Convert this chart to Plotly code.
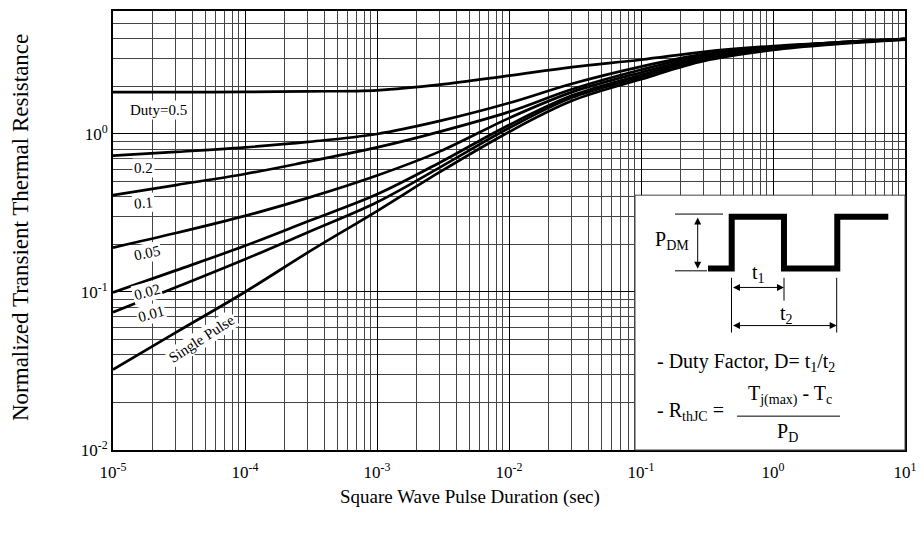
import plotly.graph_objects as go

# ---------------- data ----------------
t = [1e-5, 3e-5, 1e-4, 3e-4, 1e-3, 3e-3, 1e-2, 3e-2, 1e-1, 3e-1, 1, 3, 10]
r_d05 = [1.84, 1.84, 1.845, 1.86, 1.89, 2.05, 2.34, 2.65, 2.95, 3.31, 3.60, 3.79, 4.0]
r_d02 = [0.729, 0.77, 0.823, 0.891, 1.00, 1.21, 1.57, 2.08, 2.67, 3.20, 3.55, 3.79, 3.98]
r_d01 = [0.410, 0.475, 0.558, 0.668, 0.822, 1.035, 1.38, 1.92, 2.55, 3.15, 3.55, 3.79, 3.98]
r_d005 = [0.191, 0.236, 0.303, 0.394, 0.546, 0.776, 1.26, 1.84, 2.45, 3.08, 3.51, 3.76, 3.98]
r_d002 = [0.0994, 0.137, 0.196, 0.280, 0.415, 0.660, 1.14, 1.75, 2.36, 3.05, 3.50, 3.76, 3.98]
r_d001 = [0.0744, 0.107, 0.161, 0.239, 0.37, 0.615, 1.09, 1.70, 2.29, 3.00, 3.47, 3.74, 3.98]
r_single = [0.0323, 0.0555, 0.100, 0.178, 0.325, 0.575, 1.03, 1.62, 2.22, 2.90, 3.40, 3.70, 3.95]

series = [r_d05, r_d02, r_d01, r_d005, r_d002, r_d001, r_single]

x_tickvals = [1e-5, 1e-4, 1e-3, 1e-2, 1e-1, 1, 10]
x_ticktext = ["10<sup>-5</sup>", "10<sup>-4</sup>", "10<sup>-3</sup>", "10<sup>-2</sup>",
              "10<sup>-1</sup>", "10<sup>0</sup>", "10<sup>1</sup>"]
y_tickvals = [0.01, 0.1, 1]
y_ticktext = ["10<sup>-2</sup>", "10<sup>-1</sup>", "10<sup>0</sup>"]

labels = ["Duty=0.5", "0.2", "0.1", "0.05", "0.02", "0.01", "Single Pulse"]

# ---------------- layout geometry ----------------
# page body has an 8px margin; plot area on the page: x 113..905, y 9..450
OFF = 8
PL, PT, PW, PH = 113, 9, 792, 441
FONT = "Liberation Serif, Times New Roman, serif"


def px(x):
    return (x - PL) / PW


def py(y):
    return (PT + PH - y) / PH


fig = go.Figure()
for s in series:
    fig.add_trace(go.Scatter(x=t, y=s, mode="lines", line=dict(color="black", width=2.7, shape="spline"),
                             showlegend=False, hoverinfo="skip"))

minor_x = [m * 10 ** k for k in range(-5, 1) for m in range(2, 10)]
minor_y = [m * 10 ** k for k in range(-2, 1) for m in range(2, 10) if m * 10 ** k <= 6]

fig.update_xaxes(type="log", range=[-5, 1], tickmode="array", tickvals=x_tickvals, ticktext=x_ticktext,
                 showgrid=True, gridcolor="black", gridwidth=1.3,
                 minor=dict(tickmode="array", tickvals=minor_x, showgrid=True, gridcolor="#444", gridwidth=1),
                 showline=True, linecolor="black", linewidth=2, mirror=True, ticks="",
                 ticklabelstandoff=6,
                 tickfont=dict(family=FONT, size=17, color="black"), zeroline=False)
fig.update_yaxes(type="log", range=[-2, 0.7782], tickmode="array", tickvals=y_tickvals, ticktext=y_ticktext,
                 showgrid=True, gridcolor="black", gridwidth=1.3,
                 minor=dict(tickmode="array", tickvals=minor_y, showgrid=True, gridcolor="#444", gridwidth=1),
                 showline=True, linecolor="black", linewidth=2, mirror=True, ticks="",
                 ticklabelstandoff=0,
                 tickfont=dict(family=FONT, size=17, color="black"), zeroline=False)

shapes = []
# inset white box (covers the grid in the lower right)
shapes.append(dict(type="rect", xref="x domain", yref="y domain", x0=px(635), x1=1, y0=0, y1=py(194),
                   fillcolor="white", line=dict(color="#444", width=1), layer="above"))
# pulse waveform
wave = [(708, 267.7), (731.7, 267.7), (731.7, 215.7), (784, 215.7), (784, 267.7),
        (837.3, 267.7), (837.3, 215.7), (888.3, 215.7)]
path = "M " + " L ".join(f"{px(a):.4f},{py(b):.4f}" for a, b in wave)
shapes.append(dict(type="path", xref="x domain", yref="y domain", path=path,
                   line=dict(color="black", width=6), layer="above"))
# dimension lines
thin = dict(color="black", width=1)
for (x0, y0, x1, y1) in [(675, 213, 723, 213), (675, 270, 707, 270),
                         (731.5, 277, 731.5, 332), (784, 277, 784, 300), (836.7, 277, 836.7, 332),
                         (737, 416, 840, 416)]:
    shapes.append(dict(type="line", xref="x domain", yref="y domain", x0=px(x0), y0=py(y0), x1=px(x1), y1=py(y1),
                       line=thin, layer="above"))

ann = []
# curve labels
lab_pos = [(158, 108, 0), (143, 167, 0), (143, 202, -5), (147, 252, -12), (147, 291, -15),
           (151, 313, -15), (201, 338, -33)]
for text, (xx, yy, ang) in zip(labels, lab_pos):
    ann.append(dict(text=text, x=px(xx), y=py(yy), xref="x domain", yref="y domain", showarrow=False,
                    xanchor="center", yanchor="middle",
                    textangle=ang, bgcolor="white", borderpad=1,
                    font=dict(family=FONT, size=15, color="black")))

# arrows in the inset
for (x0, y0, x1, y1) in [(697.7, 215, 697.7, 268), (731.5, 286.7, 784, 286.7), (731.5, 325, 836.7, 325)]:
    ann.append(dict(text="", x=px(x1), y=py(y1), ax=px(x0), ay=py(y0), xref="x domain", yref="y domain",
                    axref="x domain", ayref="y domain", showarrow=True, arrowhead=2, arrowside="end+start",
                    arrowsize=1.4, arrowwidth=1, arrowcolor="black", standoff=0, startstandoff=0))


def txt(s, xx, yy, size=20, xanchor="center"):
    ann.append(dict(text=s, x=px(xx), y=py(yy), xref="x domain", yref="y domain", showarrow=False,
                    xanchor=xanchor, yanchor="middle", font=dict(family=FONT, size=size, color="black")))


txt("P<sub>DM</sub>", 672, 240)
txt("t<sub>1</sub>", 758, 273)
txt("t<sub>2</sub>", 786, 314)
txt("- Duty Factor, D= t<sub>1</sub>/t<sub>2</sub>", 655, 362, 20, "left")
txt("- R<sub>thJC</sub> = ", 655, 411, 20, "left")
txt("T<sub>j(max)</sub> - T<sub>c</sub>", 790, 395)
txt("P<sub>D</sub>", 787, 432)

# axis titles
ann.append(dict(text="Square Wave Pulse Duration (sec)", x=px(470), y=py(497), xref="x domain", yref="y domain",
                xanchor="center", yanchor="middle",
                showarrow=False, font=dict(family=FONT, size=19, color="black")))
ann.append(dict(text="Normalized Transient Thermal Resistance", x=px(20), y=py(227), xref="x domain",
                yref="y domain", xanchor="center", yanchor="middle",
                showarrow=False, textangle=-90, font=dict(family=FONT, size=23, color="black")))

fig.update_layout(width=916, height=527,
                  margin=dict(l=PL - OFF, r=916 + OFF - PL - PW, t=PT - OFF, b=527 + OFF - PT - PH),
                  paper_bgcolor="white", plot_bgcolor="white", shapes=shapes, annotations=ann,
                  showlegend=False)

fig.write_html("out.html")
